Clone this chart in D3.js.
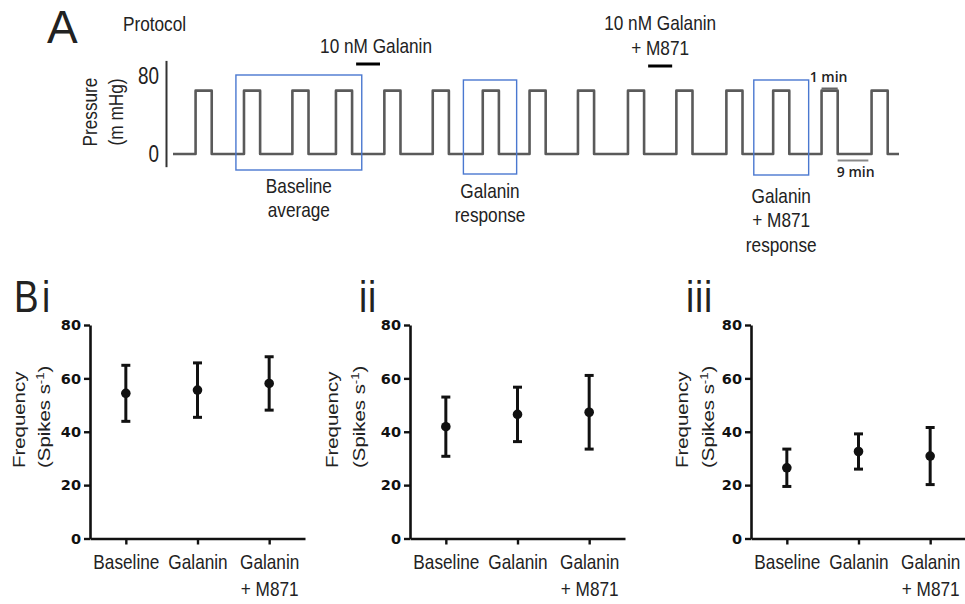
<!DOCTYPE html>
<html>
<head>
<meta charset="utf-8">
<script src="https://cdn.jsdelivr.net/npm/d3@7"></script>
<style>
  body { margin: 0; background: #fff; }
  text { font-family: "Liberation Sans", Arial, sans-serif; fill: #222; }
  .bold { font-family: "DejaVu Sans", Arial, sans-serif; font-weight: bold; fill: #111; }
</style>
</head>
<body>
<div id="chart"></div>
<script>
// ---- protocol (panel A), time in schematic units ----
var pulseStarts = [1.4, 4.4, 7.4, 10.1, 13.1, 16.1, 19.2, 22.1, 25.1, 28.2, 31.2, 34.3, 37.2, 40.2, 43.3];
var pulseWidth = 1.0;
var pulsePressure = 65;
var traceEnd = 45;
var pressureTicks = [0, 80];

var drugLabels = [["10 nM Galanin"], ["10 nM Galanin", "+ M871"]];
var drugStart = [11.35, 29.45];
var drugEnd = [12.83, 30.94];

var windowStart = [3.9, 18.0, 36.0];
var windowEnd = [11.7, 21.3, 39.4];
var windowLabels = [["Baseline", "average"], ["Galanin", "response"], ["Galanin", "+ M871", "response"]];

// ---- firing frequency (panels B), mean and SEM ----
var categories = ["Baseline", "Galanin", "Galanin + M871"];
var panelNames = ["Bi", "ii", "iii"];
var meansBi = [54.4, 55.6, 58.1];
var semBi = [10.5, 10.2, 10.0];
var meansBii = [41.9, 46.5, 47.3];
var semBii = [11.1, 10.2, 13.8];
var meansBiii = [26.5, 32.6, 30.9];
var semBiii = [7.0, 6.6, 10.7];
var freqTicks = [0, 20, 40, 60, 80];

var NARROW = 0.82; // no Arial Narrow here, squeeze Liberation Sans instead

var width = 965, height = 604;
var svg = d3.select("#chart").append("svg")
    .attr("width", width)
    .attr("height", height);

// multi-line condensed text, lines stacked from the first baseline
function narrow(parent, transform, lines, size, lineH, anchor) {
    var g = parent.append("g").attr("transform", transform + " scale(" + NARROW + ",1)");
    var t = g.append("text").attr("text-anchor", anchor || "middle").style("font-size", size + "px");
    lines.forEach(function (line, j) {
        t.append("tspan").attr("x", 0).attr("y", j * lineH).text(line);
    });
    return t;
}

// ================= Panel A =================
var tx = d3.scaleLinear().domain([0, traceEnd]).range([173, 899]);
var py = d3.scaleLinear().domain([0, 80]).range([154, 76]);

svg.append("text").attr("x", 47).attr("y", 43)
    .style("font-size", "46px").text("A");
narrow(svg, "translate(123,31)", ["Protocol"], 21, 0, "start");

// pressure axis
var axisScale = d3.scaleLinear().domain([-13, 96]).range([py(-13), py(96)]);
var gA = svg.append("g").attr("transform", "translate(166,0)")
    .call(d3.axisLeft(axisScale).tickValues(pressureTicks).tickSize(0).tickSizeOuter(0).tickPadding(7));
gA.select(".domain").attr("stroke", "#333").attr("stroke-width", 2);
gA.selectAll(".tick text")
    .attr("x", -7 / NARROW)
    .attr("transform", "scale(" + NARROW + ",1)")
    .style("font-size", "23px").style("font-family", '"Liberation Sans", Arial, sans-serif')
    .attr("fill", "#222");

narrow(svg, "translate(97,112) rotate(-90)", ["Pressure"], 21, 0);
narrow(svg, "translate(123,112) rotate(-90)", ["(m mHg)"], 21, 0);

// trace
var tracePts = [[0, 0]];
pulseStarts.forEach(function (s) {
    tracePts.push([s, 0], [s, pulsePressure], [s + pulseWidth, pulsePressure], [s + pulseWidth, 0]);
});
tracePts.push([traceEnd, 0]);
svg.append("path")
    .datum(tracePts)
    .attr("fill", "none")
    .attr("stroke", "#5a5a5a")
    .attr("stroke-width", 2.6)
    .attr("stroke-linejoin", "round")
    .attr("d", d3.line().x(function (d) { return tx(d[0]); }).y(function (d) { return py(d[1]); }));

// analysis windows
var boxTop = [75, 80, 80], boxBottom = [170, 174, 175];
var labelDrop = [23, 24, 28];
windowStart.forEach(function (s, i) {
    svg.append("rect")
        .attr("x", tx(s)).attr("y", boxTop[i])
        .attr("width", tx(windowEnd[i]) - tx(s))
        .attr("height", boxBottom[i] - boxTop[i])
        .attr("fill", "none").attr("stroke", "#4a78d0").attr("stroke-width", 1.4);
    var cx = (tx(s) + tx(windowEnd[i])) / 2;
    narrow(svg, "translate(" + cx + "," + (boxBottom[i] + labelDrop[i]) + ")", windowLabels[i], 21, 24.5);
});

// drug application bars
var drugBarY = [64, 66];
drugStart.forEach(function (s, i) {
    svg.append("line")
        .attr("x1", tx(s)).attr("x2", tx(drugEnd[i]))
        .attr("y1", drugBarY[i]).attr("y2", drugBarY[i])
        .attr("stroke", "#000").attr("stroke-width", 3);
    var cx = (tx(s) + tx(drugEnd[i])) / 2 + (i === 0 ? 8 : 0);
    var n = drugLabels[i].length;
    narrow(svg, "translate(" + cx + "," + (drugBarY[i] - 11 - (n - 1) * 25) + ")", drugLabels[i], 21, 25);
});

// scale bars
var lastPulse = pulseStarts[pulseStarts.length - 2];
svg.append("line")
    .attr("x1", tx(lastPulse)).attr("x2", tx(lastPulse + pulseWidth))
    .attr("y1", 88.5).attr("y2", 88.5)
    .attr("stroke", "#666").attr("stroke-width", 2);
svg.append("text").attr("x", tx(lastPulse + pulseWidth / 2) - 1).attr("y", 82)
    .attr("text-anchor", "middle")
    .style("font-family", '"Open Sans", sans-serif').style("font-size", "14px").style("font-weight", 600)
    .attr("fill", "#555").text("1 min");
var gapEnd = pulseStarts[pulseStarts.length - 1];
svg.append("line")
    .attr("x1", tx(lastPulse + pulseWidth)).attr("x2", tx(gapEnd - 0.2))
    .attr("y1", 160.5).attr("y2", 160.5)
    .attr("stroke", "#888").attr("stroke-width", 2);
svg.append("text").attr("x", (tx(lastPulse + pulseWidth) + tx(gapEnd)) / 2 + 1).attr("y", 177)
    .attr("text-anchor", "middle")
    .style("font-family", '"Open Sans", sans-serif').style("font-size", "14px").style("font-weight", 600)
    .attr("fill", "#555").text("9 min");

// ================= Panels B =================
var panelMeans = [meansBi, meansBii, meansBiii];
var panelSem = [semBi, semBii, semBiii];
var panelLeft = [90, 410, 751];
var panelNameX = [14, 359, 686];
var freqLabelX = [-65, -72, -63];
var spikeLabelX = [-40, -45, -37];

var fy = d3.scaleLinear().domain([0, 80]).range([538.5, 325]);

panelNames.forEach(function (name, p) {
    var x0 = panelLeft[p];
    var fx = d3.scalePoint().domain(categories).range([x0, x0 + 215]).padding(0.5);
    var g = svg.append("g");

    narrow(svg, "translate(" + panelNameX[p] + ",312)", [name], 45, 0, "start")
        .style("letter-spacing", name === "Bi" ? "4px" : "1px");

    var gy = g.append("g").attr("transform", "translate(" + x0 + ",0)")
        .call(d3.axisLeft(fy).tickValues(freqTicks).tickSize(6).tickSizeOuter(0).tickPadding(3));
    gy.selectAll(".tick text").attr("class", "bold").style("font-size", "14.5px").attr("fill", "#111");

    var gx = g.append("g").attr("transform", "translate(0," + fy(0) + ")")
        .call(d3.axisBottom(fx).tickSize(6).tickSizeOuter(0));
    gx.selectAll(".tick text").remove();
    gx.selectAll(".tick").each(function (d) {
        var lines = d === "Galanin + M871" ? ["Galanin", "+ M871"] : [d];
        narrow(d3.select(this), "translate(0,30.5)", lines, 21, 27).attr("fill", "#222")
            .style("font-family", '"Liberation Sans", Arial, sans-serif');
    });
    [gx, gy].forEach(function (a) {
        a.select(".domain").attr("stroke", "#111").attr("stroke-width", 2.6);
        a.selectAll(".tick line").attr("stroke", "#111").attr("stroke-width", 2.4);
    });

    // y label
    var ly = g.append("g").attr("transform", "translate(" + x0 + ",468) rotate(-90) scale(1.2,1)");
    ly.append("text").attr("x", 0).attr("y", freqLabelX[p])
        .style("font-size", "17px").attr("fill", "#333").text("Frequency");
    var st = ly.append("text").attr("x", 0).attr("y", spikeLabelX[p])
        .style("font-size", "17px").attr("fill", "#333");
    st.append("tspan").text("(Spikes s");
    st.append("tspan").attr("dy", -6).style("font-size", "11px").text("-1");
    st.append("tspan").attr("dy", 6).text(")");

    // error bars and means
    var means = panelMeans[p], sem = panelSem[p];
    var bars = g.append("g").selectAll("g").data(categories).join("g");
    bars.append("line")
        .attr("x1", function (d) { return fx(d); }).attr("x2", function (d) { return fx(d); })
        .attr("y1", function (d, i) { return fy(means[i] + sem[i]); })
        .attr("y2", function (d, i) { return fy(means[i] - sem[i]); })
        .attr("stroke", "#111").attr("stroke-width", 3);
    [1, -1].forEach(function (sgn) {
        bars.append("line")
            .attr("x1", function (d) { return fx(d) - 4.5; }).attr("x2", function (d) { return fx(d) + 4.5; })
            .attr("y1", function (d, i) { return fy(means[i] + sgn * sem[i]); })
            .attr("y2", function (d, i) { return fy(means[i] + sgn * sem[i]); })
            .attr("stroke", "#111").attr("stroke-width", 3);
    });
    bars.append("circle")
        .attr("cx", function (d) { return fx(d); })
        .attr("cy", function (d, i) { return fy(means[i]); })
        .attr("r", 4.8).attr("fill", "#111");
});
</script>
</body>
</html>
